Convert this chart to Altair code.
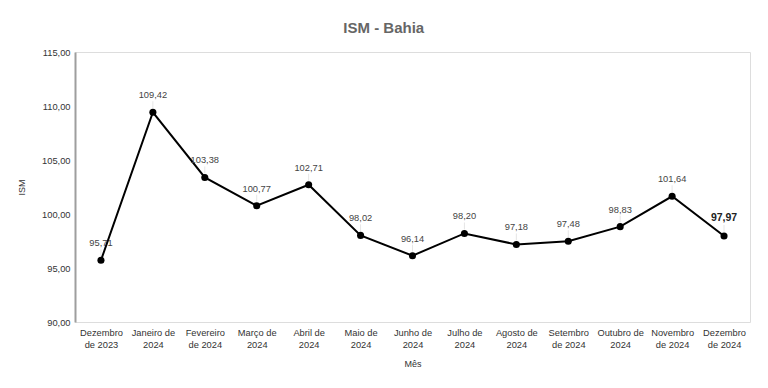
import altair as alt
import pandas as pd

months = ["Dezembro\nde 2023", "Janeiro de\n2024", "Fevereiro\nde 2024", "Março de\n2024",
          "Abril de\n2024", "Maio de\n2024", "Junho de\n2024", "Julho de\n2024",
          "Agosto de\n2024", "Setembro\nde 2024", "Outubro de\n2024", "Novembro\nde 2024",
          "Dezembro\nde 2024"]
ism = [95.71, 109.42, 103.38, 100.77, 102.71, 98.02, 96.14, 98.20, 97.18, 97.48, 98.83, 101.64, 97.97]

df = pd.DataFrame({"mes": months, "ism": ism})
df["lbl"] = [f"{v:.2f}".replace(".", ",") for v in ism]
df["last"] = [i == len(ism) - 1 for i in range(len(ism))]

FONT = "Liberation Sans"

x = alt.X("mes:N", sort=months, title="Mês",
          scale=alt.Scale(type="point", padding=0.5),
          axis=alt.Axis(labelAngle=0, domain=False, ticks=False,
                        labelExpr="split(datum.label, '\\n')",
                        labelFontSize=9.3, labelColor="#333", labelPadding=6,
                        labelLineHeight=12,
                        labelFont=FONT, titleFont=FONT, titleFontSize=9,
                        titleFontWeight="normal", titleColor="#333", titlePadding=10))
y = alt.Y("ism:Q", title="ISM",
          scale=alt.Scale(domain=[90, 115], nice=False, zero=False),
          axis=alt.Axis(values=[90, 95, 100, 105, 110, 115], grid=False, ticks=False,
                        domainColor="#9e9e9e", domainWidth=2,
                        labelExpr="replace(format(datum.value, '.2f'), '.', ',')",
                        labelFontSize=9.3, labelColor="#333", labelPadding=5,
                        labelFont=FONT, titleFont=FONT, titleFontSize=9,
                        titleFontWeight="normal", titleColor="#333", titlePadding=15))

base = alt.Chart(df)

line = base.mark_line(color="black", strokeWidth=2).encode(x=x, y=y)
pts = base.mark_point(filled=True, color="black", size=50, opacity=1).encode(x=x, y=y)
lead = base.mark_rule(color="#e6e6e6", strokeWidth=1, yOffset=-11, y2Offset=-4).encode(
    x=x, y=y, y2="ism:Q")
labels = base.transform_filter("!datum.last").mark_text(
    dy=-17, baseline="middle", fontSize=9.3, color="#444", font=FONT).encode(
    x=x, y=y, text="lbl:N")
last = base.transform_filter("datum.last").mark_text(
    dy=-18, baseline="middle", fontSize=10.5, fontWeight="bold", color="#222", font=FONT).encode(
    x=x, y=y, text="lbl:N")

chart = alt.layer(lead, line, pts, labels, last).properties(
    width=675, height=270,
    padding={"left": 9, "top": 13, "right": 5, "bottom": 5},
    title=alt.TitleParams("ISM - Bahia", font=FONT, fontSize=15, fontWeight="bold",
                          color="#666", anchor="middle", frame="bounds", offset=12)
).configure_view(stroke=None).configure(background="white")

chart.save("out.html", embed_options={"renderer": "svg", "actions": False})
